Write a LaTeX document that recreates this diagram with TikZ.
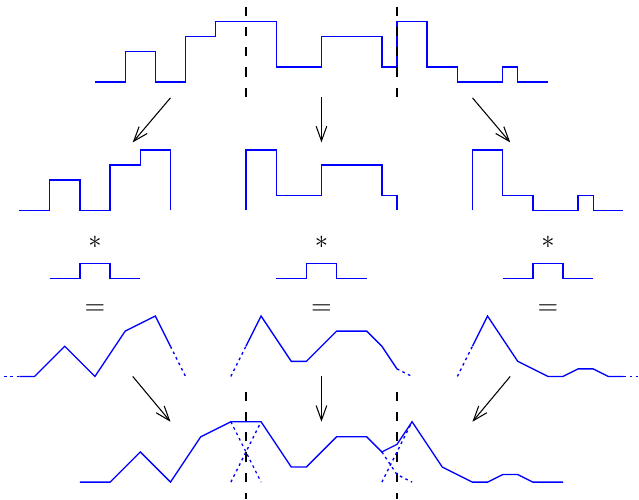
\documentclass[tikz,border=0pt]{standalone}
\usepackage{amsmath}
\usepackage{xcolor}
\definecolor{sigblue}{RGB}{0,0,255}
\definecolor{cutblack}{RGB}{0,0,0}
\usepackage{tikz}
\usetikzlibrary{arrows.meta}

\tikzset{
  sig/.style={sigblue, line width=0.5pt, line join=miter},
  tail/.style={sigblue, line width=0.5pt, dash pattern=on 1pt off 1.3pt},
  cut/.style={cutblack, line width=0.5pt, dash pattern=on 3.5pt off 4.15pt},
  flow/.style={-{Straight Barb[length=5.5pt, width=4pt]}, line width=0.4pt},
  op/.style={font=\normalsize, inner sep=0pt}
}

\begin{document}
\begin{tikzpicture}[x=0.2cm, y=0.2cm]
  \useasboundingbox (-6.29,-27.62) rectangle (36.03,5.43);

  % --- Top row: input signal ---
  \draw[sig] (0,0) -- (2,0) -- (2,2) -- (4,2) -- (4,0) -- (6,0) -- (6,3) -- (8,3) -- (8,4) -- (12,4) -- (12,1) -- (15,1) -- (15,3) -- (19,3) -- (19,1) -- (20,1) -- (20,4) -- (22,4) -- (22,1) -- (24,1) -- (24,0) -- (27,0) -- (27,1) -- (28,1) -- (28,0) -- (30,0);
  % Block boundaries
  \draw[cut] (10,5) -- (10,-1);
  \draw[cut] (20,5) -- (20,-1);

  % Split arrows
  \coordinate (splitL0) at (5,-1.05);   \coordinate (splitL1) at (2.5,-4);
  \coordinate (splitM0) at (15,-1);     \coordinate (splitM1) at (15,-4);
  \coordinate (splitR0) at (25,-1.05);  \coordinate (splitR1) at (27.5,-4);
  \draw[flow] (splitL0) -- (splitL1);
  \draw[flow] (splitM0) -- (splitM1);
  \draw[flow] (splitR0) -- (splitR1);

  % --- Second row: the three blocks ---
  \draw[sig] (-5,-8.5) -- (-3,-8.5) -- (-3,-6.5) -- (-1,-6.5) -- (-1,-8.5) -- (1,-8.5) -- (1,-5.5) -- (3,-5.5) -- (3,-4.5) -- (5,-4.5) -- (5,-8.5);
  \draw[sig] (10,-8.5) -- (10,-4.5) -- (12,-4.5) -- (12,-7.5) -- (15,-7.5) -- (15,-5.5) -- (19,-5.5) -- (19,-7.5) -- (20,-7.5) -- (20,-8.5);
  \draw[sig] (25,-8.5) -- (25,-4.5) -- (27,-4.5) -- (27,-7.5) -- (29,-7.5) -- (29,-8.5) -- (32,-8.5) -- (32,-7.5) -- (33,-7.5) -- (33,-8.5) -- (35,-8.5);

  % Convolution with the kernel
  \node[op] (starL) at (0,-10.6) {$*$};
  \node[op] (starM) at (15,-10.6) {$*$};
  \node[op] (starR) at (30,-10.6) {$*$};
  \draw[sig] (-3,-13) -- (-1,-13) -- (-1,-12) -- (1,-12) -- (1,-13) -- (3,-13);
  \draw[sig] (12,-13) -- (14,-13) -- (14,-12) -- (16,-12) -- (16,-13) -- (18,-13);
  \draw[sig] (27,-13) -- (29,-13) -- (29,-12) -- (31,-12) -- (31,-13) -- (33,-13);
  \node[op] (eqL) at (0,-15.05) {$=$};
  \node[op] (eqM) at (15,-15.05) {$=$};
  \node[op] (eqR) at (30,-15.05) {$=$};

  % --- Fourth row: filtered blocks ---
  \draw[tail] (-6,-19.5) -- (-5,-19.5);
  \draw[sig] (-5,-19.5) -- (-4,-19.5) -- (-2,-17.5) -- (0,-19.5) -- (2,-16.5) -- (4,-15.5) -- (5,-17.5);
  \draw[tail] (5,-17.5) -- (6,-19.5);

  \draw[tail] (9,-19.5) -- (10,-17.5);
  \draw[sig] (10,-17.5) -- (11,-15.5) -- (13,-18.5) -- (14,-18.5) -- (16,-16.5) -- (18,-16.5) -- (19,-17.5) -- (20,-19);
  \draw[tail] (20,-19) -- (21,-19.5);

  \draw[tail] (24,-19.5) -- (25,-17.5);
  \draw[sig] (25,-17.5) -- (26,-15.5) -- (28,-18.5) -- (30,-19.5) -- (31,-19.5) -- (32,-19) -- (33,-19) -- (34,-19.5) -- (35,-19.5);
  \draw[tail] (35,-19.5) -- (36,-19.5);

  % Merge arrows
  \coordinate (addL0) at (2.5,-19.5);   \coordinate (addL1) at (5,-22.5);
  \coordinate (addM0) at (15,-19.5);    \coordinate (addM1) at (15,-22.5);
  \coordinate (addR0) at (27.5,-19.5);  \coordinate (addR1) at (25,-22.5);
  \draw[flow] (addL0) -- (addL1);
  \draw[flow] (addM0) -- (addM1);
  \draw[flow] (addR0) -- (addR1);

  % --- Bottom row: overlap-add result ---
  \draw[cut] (10,-20.5) -- (10,-27.62);
  \draw[cut] (20,-20.5) -- (20,-27.62);
  \draw[tail] (9,-22.5) -- (11,-26.5);
  \draw[tail] (9,-26.5) -- (11,-22.5);
  \draw[tail] (19,-24.5) -- (20,-26) -- (21,-26.5);
  \draw[tail] (19,-26.5) -- (21,-22.5);
  \draw[sig] (-1,-26.5) -- (1,-26.5) -- (3,-24.5) -- (5,-26.5) -- (7,-23.5) -- (9,-22.5) -- (11,-22.5) -- (13,-25.5) -- (14,-25.5) -- (16,-23.5) -- (18,-23.5) -- (19,-24.5) -- (20,-24) -- (21,-22.5) -- (23,-25.5) -- (25,-26.5) -- (26,-26.5) -- (27,-26) -- (28,-26) -- (29,-26.5) -- (31,-26.5);
\end{tikzpicture}
\end{document}
